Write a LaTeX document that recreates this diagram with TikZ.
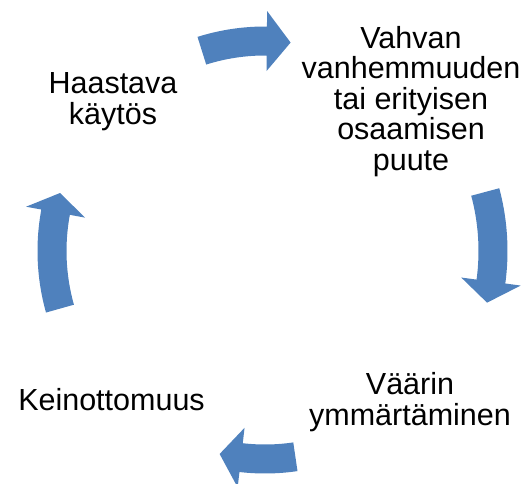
\documentclass[tikz,border=0pt]{standalone}
\usepackage{fontspec}
\setmainfont{Liberation Sans}
\definecolor{cycleblue}{HTML}{4F81BD}

% curved block arrow round the cycle centre: radius, tail angle, head base angle, tip angle
\newcommand{\cyclearrow}[4]{%
  \fill[cyclearrowfill] (#2:#1pt+14.5pt) arc[start angle=#2, end angle=#3, radius=#1pt+14.5pt]
    -- (#3:#1pt+30pt) -- (#4:#1pt) -- (#3:#1pt-30pt)
    -- (#3:#1pt-14.5pt) arc[start angle=#3, end angle=#2, radius=#1pt-14.5pt] -- cycle;}

\tikzset{
  cyclearrowfill/.style={fill=cycleblue},
  stagetext/.style={inner sep=0pt, align=center, text=black,
    font=\fontsize{30.5}{30.4}\selectfont}
}

\begin{document}
\begin{tikzpicture}[x=1pt,y=1pt]
    \useasboundingbox (0,0) rectangle (530,484);

    \begin{scope}[every node/.style={stagetext}]
        \node (puute) at (411,382.5) {Vahvan\\vanhemmuuden\\tai erityisen\\osaamisen\\puute};
        \node (vaarin) at (410,82) {Väärin\\ymmärtäminen};
        \node (keino) at (111.5,84.5) {Keinottomuus};
        \node (haastava) at (113,382.5) {Haastava\\käytös};
    \end{scope}

    \begin{scope}[shift={(265,233)}]
        \cyclearrow{210}{107.5}{89.5}{83}
        \cyclearrow{228}{15}{-7.7}{-13.1}
        \cyclearrow{208}{-81.6}{-96.6}{-102.6}
        \cyclearrow{213}{195.7}{169.5}{164.2}
    \end{scope}
\end{tikzpicture}
\end{document}
